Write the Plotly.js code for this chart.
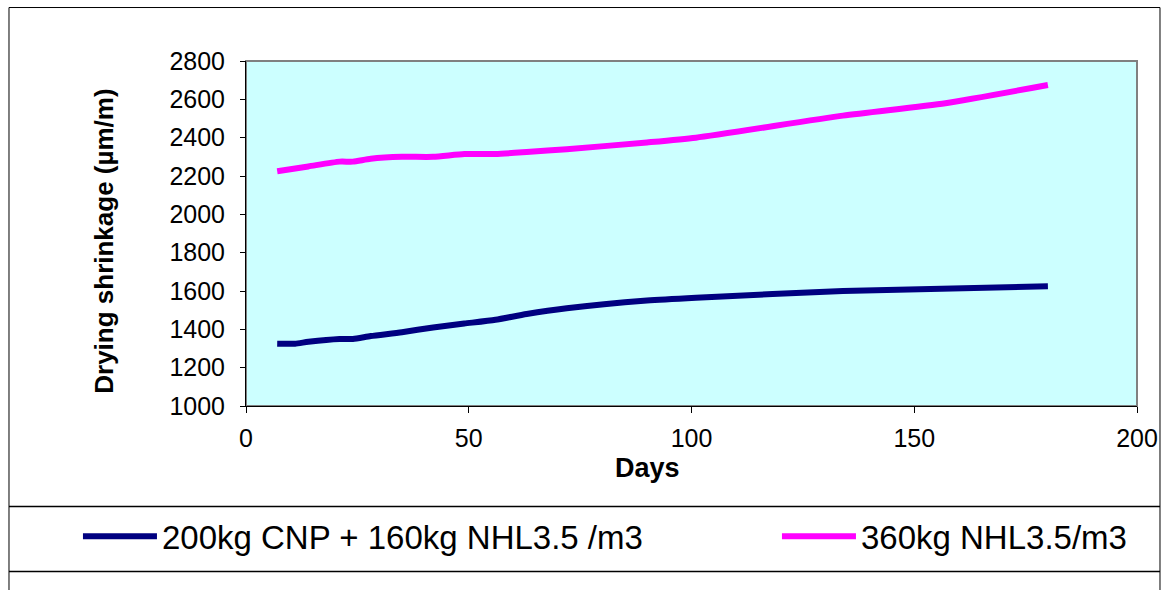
<!DOCTYPE html>
<html>
<head>
<meta charset="utf-8">
<script src="https://cdn.plot.ly/plotly-3.0.1.min.js"></script>
<style>html,body{margin:0;padding:0;background:#fff;}#chart{width:1162px;height:590px;}</style>
</head>
<body>
<div id="chart"></div>
<script>
// Data
const daysCNP = [7, 11, 14, 21, 24, 28, 35, 42, 49, 56, 63, 72, 90, 101, 134, 180];
const shrinkCNP = [1325, 1325, 1335, 1350, 1350, 1365, 1385, 1410, 1430, 1450, 1480, 1510, 1550, 1565, 1600, 1625];
const daysNHL = [7, 14, 21, 24, 28, 35, 42, 49, 56, 63, 72, 90, 101, 134, 157, 180];
const shrinkNHL = [2225, 2250, 2275, 2275, 2290, 2300, 2300, 2315, 2315, 2325, 2340, 2375, 2400, 2515, 2580, 2675];
const seriesNames = ["200kg CNP + 160kg NHL3.5 /m3", "360kg NHL3.5/m3"];
const xTicks = [0, 50, 100, 150, 200];
const yTicks = [1000, 1200, 1400, 1600, 1800, 2000, 2200, 2400, 2600, 2800];
const xTitle = 'Days';
const yTitle = 'Drying shrinkage (µm/m)';

const FONT = '"Liberation Sans", Arial, sans-serif';

const traces = [
  {x: daysCNP, y: shrinkCNP, name: seriesNames[0], mode: 'lines', legendwidth: 610,
   line: {color: '#000080', width: 6, shape: 'spline', smoothing: 0.6}},
  {x: daysNHL, y: shrinkNHL, name: seriesNames[1], mode: 'lines',
   line: {color: '#FF00FF', width: 6, shape: 'spline', smoothing: 0.6}}
];

const X0 = -0.266, X1 = 1.0258;
const layout = {
  width: 1162, height: 590,
  margin: {l: 246, r: 25, t: 61, b: 184, pad: 0, autoexpand: false},
  paper_bgcolor: '#ffffff',
  plot_bgcolor: '#CCFFFF',
  font: {family: FONT, size: 25, color: '#000'},
  xaxis: {
    range: [0, 200], tickvals: xTicks, ticktext: xTicks.map(String),
    ticks: 'outside', ticklen: 6, tickcolor: '#000', tickwidth: 1,
    showline: true, linecolor: '#000', linewidth: 1,
    showgrid: false, zeroline: false,
    tickfont: {family: FONT, size: 25, color: '#000'},
    ticklabelstandoff: 4
  },
  yaxis: {
    range: [1000, 2800], tickvals: yTicks, ticktext: yTicks.map(String),
    ticks: 'outside', ticklen: 5, tickcolor: '#000', tickwidth: 1,
    showline: true, linecolor: '#000', linewidth: 1,
    showgrid: false, zeroline: false,
    tickfont: {family: FONT, size: 25, color: '#000'},
    ticklabelstandoff: 10
  },
  annotations: [
    {text: xTitle, xref: 'paper', yref: 'paper', x: 0.451, y: -0.181,
     xanchor: 'center', yanchor: 'middle', showarrow: false,
     font: {family: FONT, size: 27, color: '#000', weight: 'bold'}},
    {text: yTitle, xref: 'paper', yref: 'paper', x: -0.159, y: 0.477, textangle: -90,
     xanchor: 'center', yanchor: 'middle', showarrow: false,
     font: {family: FONT, size: 26, color: '#000', weight: 'bold'}}
  ],
  showlegend: true,
  legend: {
    orientation: 'h', x: -0.1886, xanchor: 'left', y: -0.378, yanchor: 'middle',
    bgcolor: 'rgba(0,0,0,0)', font: {family: FONT, size: 33, color: '#000'},
    itemwidth: 74, traceorder: 'normal'
  },
  shapes: [
    {type: 'rect', xref: 'paper', yref: 'paper', x0: 0, x1: 1, y0: 0, y1: 1,
     line: {color: '#808080', width: 2}, layer: 'below'},
    {type: 'rect', xref: 'paper', yref: 'paper', x0: X0, x1: X1, y0: -0.57, y1: 1.155,
     line: {color: '#000', width: 1}},
    {type: 'line', xref: 'paper', yref: 'paper', x0: X0, x1: X1, y0: -0.2913, y1: -0.2913,
     line: {color: '#000', width: 1.5}},
    {type: 'line', xref: 'paper', yref: 'paper', x0: X0, x1: X1, y0: -0.4797, y1: -0.4797,
     line: {color: '#000', width: 1.5}}
  ]
};

Plotly.newPlot('chart', traces, layout, {staticPlot: true, displayModeBar: false});
</script>
</body>
</html>
